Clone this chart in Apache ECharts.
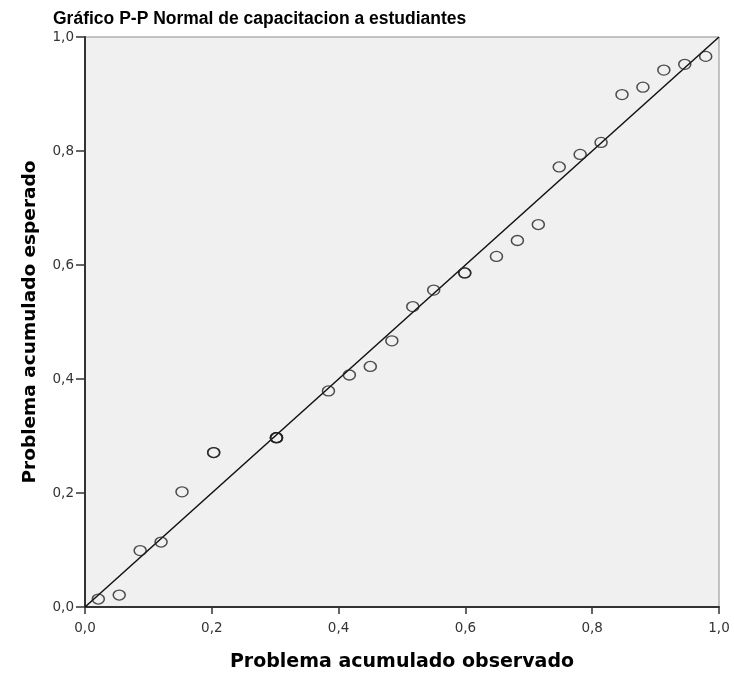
<!DOCTYPE html>
<html>
<head>
<meta charset="utf-8">
<script src="https://cdn.jsdelivr.net/npm/echarts@6/dist/echarts.min.js"></script>
<style>
html,body{margin:0;padding:0;background:#fff;}
#chart{width:734px;height:677px;}
</style>
</head>
<body>
<div id="chart"></div>
<script>
const titleText = "Gráfico P-P Normal de capacitacion a estudiantes";
const xAxisName = "Problema acumulado observado";
const yAxisName = "Problema acumulado esperado";
const tickValues = [0, 0.2, 0.4, 0.6, 0.8, 1.0];

// observed cumulative probability (x) and expected cumulative probability (y)
const observed = [0.021, 0.054, 0.087, 0.120, 0.153, 0.203, 0.203, 0.302, 0.302, 0.302, 0.302,
  0.384, 0.417, 0.450, 0.484, 0.517, 0.550, 0.599, 0.599, 0.649, 0.682, 0.715, 0.748,
  0.781, 0.814, 0.847, 0.880, 0.913, 0.946, 0.979];
const expected = [0.014, 0.021, 0.099, 0.114, 0.202, 0.271, 0.271, 0.297, 0.297, 0.297, 0.297,
  0.379, 0.407, 0.422, 0.467, 0.527, 0.556, 0.586, 0.586, 0.615, 0.643, 0.671, 0.772,
  0.794, 0.815, 0.899, 0.912, 0.942, 0.952, 0.966];
const refLine = [[0, 0], [1, 1]];

const points = observed.map((v, i) => [v, expected[i]]);
const fmt = v => v.toFixed(1).replace('.', ',');

const chart = echarts.init(document.getElementById('chart'));
chart.setOption({
  animation: false,
  title: {
    text: titleText,
    left: 48, top: 5,
    textStyle: {fontFamily: 'Liberation Sans', fontWeight: 'bold', fontSize: 17.5, color: '#000'}
  },
  grid: {
    left: 85, right: 15, top: 37, bottom: 65,
    show: true, backgroundColor: '#f0f0f0', borderColor: '#8c8c8c', borderWidth: 1
  },
  xAxis: {
    type: 'value', min: 0, max: 1, interval: 0.2,
    name: xAxisName, nameLocation: 'middle', nameGap: 46,
    nameTextStyle: {fontFamily: 'DejaVu Sans', fontWeight: 'bold', fontSize: 19, color: '#000'},
    axisLine: {show: true, onZero: false, lineStyle: {color: '#333', width: 2}},
    axisTick: {show: true, length: 7, lineStyle: {color: '#333', width: 1.5}},
    axisLabel: {formatter: fmt, fontFamily: 'DejaVu Sans', fontSize: 13.5, color: '#333', margin: 14},
    splitLine: {show: false}
  },
  yAxis: {
    type: 'value', min: 0, max: 1, interval: 0.2,
    name: yAxisName, nameLocation: 'middle', nameGap: 45, nameRotate: 90,
    nameTextStyle: {fontFamily: 'DejaVu Sans', fontWeight: 'bold', fontSize: 18.5, color: '#000'},
    axisLine: {show: true, onZero: false, lineStyle: {color: '#333', width: 2}},
    axisTick: {show: true, length: 9, lineStyle: {color: '#333', width: 1.5}},
    axisLabel: {formatter: fmt, fontFamily: 'DejaVu Sans', fontSize: 13.5, color: '#333', margin: 11},
    splitLine: {show: false}
  },
  series: [
    {
      type: 'line', data: refLine, symbol: 'none', silent: true,
      lineStyle: {color: '#111', width: 1.5}, z: 2
    },
    {
      type: 'scatter', data: points, symbol: 'circle', symbolSize: [12, 10],
      itemStyle: {color: 'rgba(0,0,0,0)', borderColor: '#222', borderWidth: 1.4}, z: 3
    }
  ]
});
</script>
</body>
</html>
